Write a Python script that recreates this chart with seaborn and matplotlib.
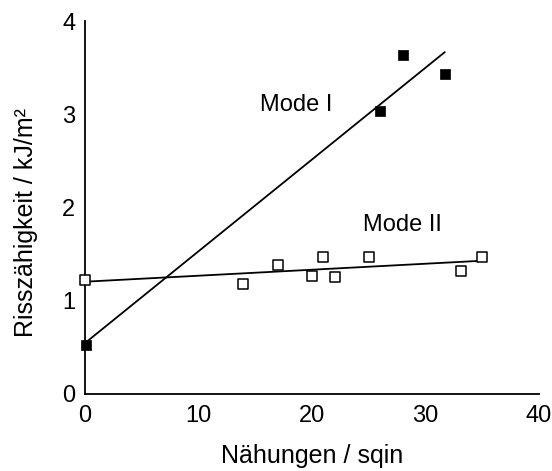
import matplotlib
matplotlib.use("Agg")
import matplotlib.pyplot as plt
import seaborn as sns
import numpy as np
import pandas as pd

# Data
mode1_x = [0.1, 26.0, 28.0, 31.7]
mode1_y = [0.53, 3.03, 3.64, 3.43]
mode2_x = [0.0, 13.9, 17.0, 20.0, 21.0, 22.05, 25.0, 33.1, 35.0]
mode2_y = [1.22, 1.18, 1.38, 1.27, 1.47, 1.26, 1.47, 1.32, 1.47]
x_ticks = [0, 10, 20, 30, 40]
y_ticks = [0, 1, 2, 3, 4]
x_label = "Nähungen / sqin"
y_label = "Risszähigkeit / kJ/m²"

sns.set_style("white")
plt.rcParams['font.family'] = ['Liberation Sans', 'DejaVu Sans']
plt.rcParams['text.color'] = 'black'
plt.rcParams['axes.labelcolor'] = 'black'
plt.rcParams['xtick.color'] = 'black'
plt.rcParams['ytick.color'] = 'black'

fig = plt.figure(figsize=(5.52, 4.71), dpi=100)
ax = fig.add_axes([85/552, 1-394/471, (539-85)/552, (394-21)/471])

df1 = pd.DataFrame({"x": mode1_x, "y": mode1_y})
df2 = pd.DataFrame({"x": mode2_x, "y": mode2_y})

sns.regplot(data=df1, x="x", y="y", ci=None, scatter=False, truncate=True,
            color="black", line_kws={"linewidth": 1.3}, ax=ax)
sns.regplot(data=df2, x="x", y="y", ci=None, scatter=False, truncate=True,
            color="black", line_kws={"linewidth": 1.3}, ax=ax)
sns.scatterplot(data=df1, x="x", y="y", marker="s", s=55, color="black",
                edgecolor="black", linewidth=0.5, ax=ax, zorder=5, clip_on=False)
sns.scatterplot(data=df2, x="x", y="y", marker="s", s=55, facecolor="white",
                edgecolor="black", linewidth=1.1, ax=ax, zorder=5, clip_on=False)

ax.text(18.65, 3.10, "Mode I", fontsize=17, ha="center", va="center")
ax.text(28.0, 1.81, "Mode II", fontsize=17, ha="center", va="center")

ax.set_xlim(0, 40)
ax.set_ylim(0, 4)
ax.set_xticks(x_ticks)
ax.set_yticks(y_ticks)
ax.tick_params(axis="both", length=0, labelsize=17, colors="black")
ax.tick_params(axis="x", pad=8)
ax.tick_params(axis="y", pad=7)
ax.set_xlabel(x_label, fontsize=18, labelpad=12)
ax.set_ylabel(y_label, fontsize=18)
ax.yaxis.set_label_coords(-0.104, 0.461)
sns.despine(ax=ax)
for s in ["left", "bottom"]:
    ax.spines[s].set_color("black")
    ax.spines[s].set_linewidth(1.3)

fig.savefig("out.png", dpi=100)
